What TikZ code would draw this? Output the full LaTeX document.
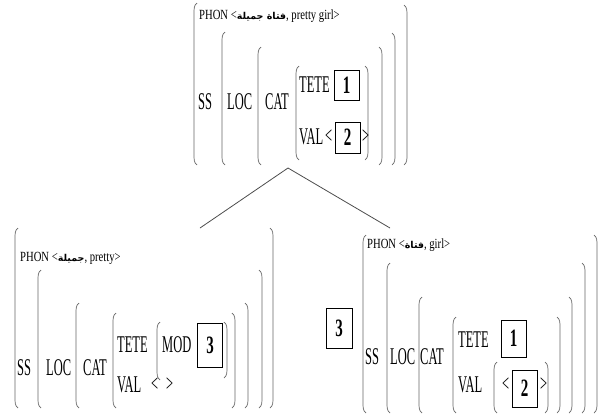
\documentclass[tikz,border=0pt]{standalone}
\usepackage{fontspec}
\setmainfont{Liberation Serif}
\newfontfamily\labfont{Liberation Serif}[FakeStretch=0.52]
\newfontfamily\tagfont{Liberation Serif}[FakeStretch=0.6]
\newfontfamily\phonfont{Liberation Serif}[FakeStretch=0.76]
\newfontfamily\arabicfont[Script=Arabic]{DejaVu Sans}
\TeXXeTstate=1
\begin{document}
\begin{tikzpicture}[x=1pt, y=-1pt,
brk/.style={draw=black!60, line width=.7pt},
lab/.style={inner sep=0pt, anchor=west, font=\labfont\fontsize{24}{24}\selectfont},
phon/.style={inner sep=0pt, anchor=west, font=\phonfont\fontsize{14}{14}\selectfont},
arab/.style={font=\arabicfont\bfseries\fontsize{9.5}{9.5}\selectfont},
tag/.style={draw, line width=.8pt, inner sep=0pt, minimum width=25pt, minimum height=30pt, font=\tagfont\bfseries\fontsize{25}{25}\selectfont},
branch/.style={draw=black!70, line width=.8pt}]
\useasboundingbox (0,0) rectangle (599,416);
\foreach \x/\t/\b/\d in {194/3/165/3, 222/32/165/3, 258/47/165/3, 296/66/160/3,
368/66/160/-3, 382/47/165/-3, 395/33/165/-3, 407/5/165/-3,
15/228/408/3, 38/270/408/3, 76/303/408/3, 113/313/408/3, 157/322/380/3,
227/322/378/-3, 235/313/408/-3, 248/303/408/-3, 262/270/408/-3, 273/228/408/-3,
363/235/413/3, 387/263/413/3, 419/297/413/3, 453/317/413/3, 494/362/413/3,
548/362/413/-3, 560/317/413/-3, 572/297/413/-3, 585/263/413/-3, 597/235/413/-3}{
\draw[brk] ({\x+(\d)},\t) .. controls (\x,\t+2) and (\x,\t+6) .. (\x,\t+10) -- (\x,\b-10) .. controls (\x,\b-6) and (\x,\b-2) .. ({\x+(\d)},\b);
}
\node[phon] (phonT) at (199,16) {PHON <{\arabicfont\bfseries\fontsize{9.5}{9.5}\selectfont\beginR فتاة جميلة\endR}, pretty girl>};
\node[lab] (ssT) at (198,102) {SS};
\node[lab] (locT) at (227,102) {LOC};
\node[lab] (catT) at (265,102) {CAT};
\node[lab] (teteT) at (299,85) {TETE};
\node[tag] (oneT) at (346.5,85) {1};
\node[lab] (valT) at (299,137) {VAL};
\node[lab] (ltT) at (325,137) {<};
\node[tag, minimum height=31pt] (twoT) at (347.5,137.5) {2};
\node[lab] (gtT) at (362,137) {>};
\coordinate (apex) at (288,168);
\coordinate (lhead) at (200,228);
\coordinate (rhead) at (390,228);
\draw[branch] (apex) -- (lhead);
\draw[branch] (apex) -- (rhead);
\node[phon] (phonL) at (20,258) {PHON <{\arabicfont\bfseries\fontsize{9.5}{9.5}\selectfont\beginR جميلة\endR}, pretty>};
\node[lab] (ssL) at (17,368) {SS};
\node[lab] (locL) at (46,368) {LOC};
\node[lab] (catL) at (83,368) {CAT};
\node[lab] (teteL) at (117,345) {TETE};
\node[lab] (modL) at (162,345) {MOD};
\node[tag, minimum height=44pt] (threeL) at (210,345) {3};
\node[lab] (valL) at (117,385) {VAL};
\node[lab] (ltL) at (151,385) {<};
\node[lab] (gtL) at (166,385) {>};
\node[tag, minimum width=26pt, minimum height=40pt] (threeR) at (339,328) {3};
\node[phon] (phonR) at (367,245) {PHON <{\arabicfont\bfseries\fontsize{9.5}{9.5}\selectfont\beginR فتاة\endR}, girl>};
\node[lab] (ssR) at (365,357) {SS};
\node[lab] (locR) at (390,357) {LOC};
\node[lab] (catR) at (420,357) {CAT};
\node[lab] (teteR) at (458,340) {TETE};
\node[tag, minimum height=37pt] (oneR) at (513.5,338.5) {1};
\node[lab] (valR) at (458,385) {VAL};
\node[lab] (ltR) at (502,385) {<};
\node[tag, minimum height=37pt] (twoR) at (524.5,388.5) {2};
\node[lab] (gtR) at (540,385) {>};
\end{tikzpicture}
\end{document}
